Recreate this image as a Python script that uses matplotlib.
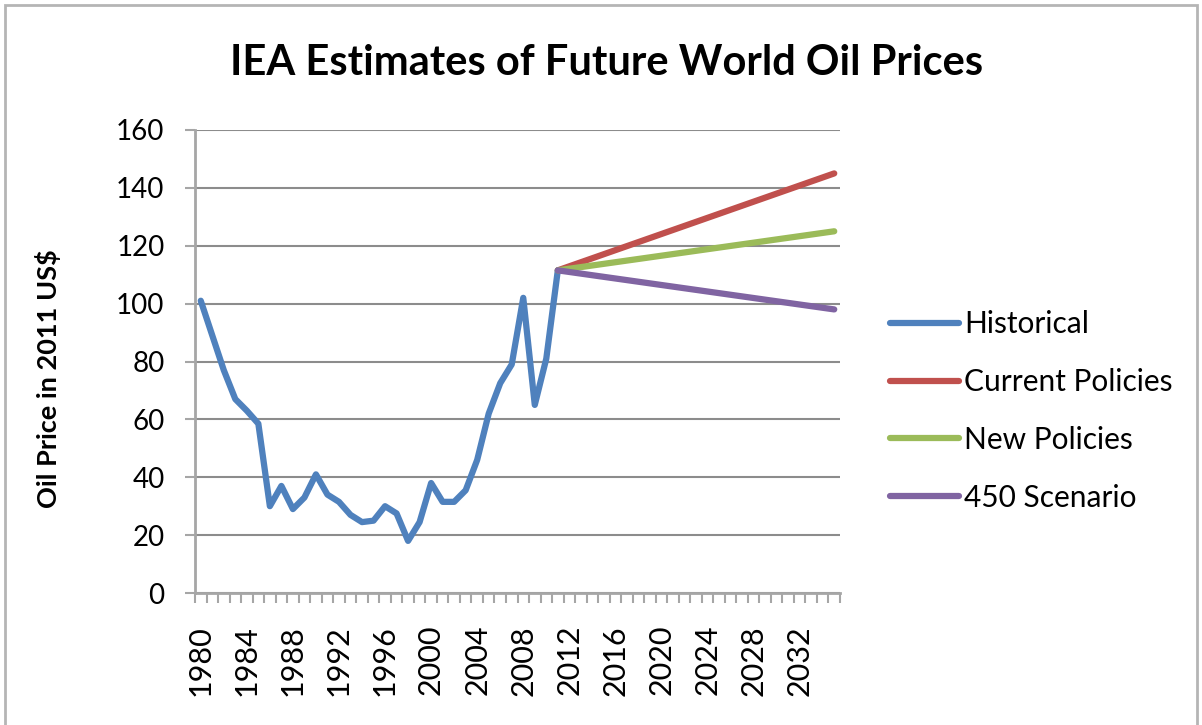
import numpy as np
import matplotlib
matplotlib.use('Agg')
import matplotlib.pyplot as plt
from matplotlib.patches import Rectangle

plt.rcParams['font.family'] = ['Lato', 'DejaVu Sans']

# Historical oil prices (2011 US$), 1980-2011
hist_years = list(range(1980, 2012))
hist_prices = [101, 89, 77, 67, 63, 58.5, 30, 37, 29, 33, 41, 34, 31.5, 27, 24.5, 25,
               30, 27.5, 18, 24.5, 38, 31.5, 31.5, 35.5, 46, 62, 72.5, 79, 102, 65, 81, 111.5]

# IEA scenario projections, 2011 -> 2035
proj_years = [2011, 2035]
current_policies = [111.5, 145]
new_policies = [111.5, 125]
scenario_450 = [111.5, 98]

tick_years = list(range(1980, 2036, 4))

blue = '#4f81bd'
red = '#c0504d'
green = '#9bbb59'
purple = '#8064a2'
axis_gray = '#a6a6a6'

fig = plt.figure(figsize=(12.02, 7.25), dpi=100)
ax = fig.add_axes([195/1202, 1-593/725, (840-195)/1202, (593-130)/725])

lw = 4.5
ax.plot(hist_years, hist_prices, color=blue, lw=lw, solid_capstyle='round', solid_joinstyle='round', label='Historical', zorder=3)
ax.plot(proj_years, current_policies, color=red, lw=lw, solid_capstyle='round', label='Current Policies', zorder=3)
ax.plot(proj_years, new_policies, color=green, lw=lw, solid_capstyle='round', label='New Policies', zorder=3)
ax.plot(proj_years, scenario_450, color=purple, lw=lw, solid_capstyle='round', label='450 Scenario', zorder=3)

ax.set_xlim(1979.5, 2035.5)
ax.set_ylim(0, 160)
ax.set_yticks(range(0, 161, 20))
ax.set_xticks(tick_years)
ax.set_xticklabels([str(y) for y in tick_years], rotation=90)
ax.set_xticks(np.arange(1979.5, 2036, 1), minor=True)
ax.tick_params(axis='x', which='major', length=0, pad=23, labelsize=22)
ax.tick_params(axis='x', which='minor', length=7, width=1.5, color=axis_gray, direction='out')
ax.tick_params(axis='y', which='major', length=7, width=1.5, color=axis_gray, direction='out', labelsize=20, pad=15)

ax.yaxis.grid(True, color='#8c8c8c', lw=1.5)
ax.set_axisbelow(True)
for s in ['top', 'right']:
    ax.spines[s].set_visible(False)
for s in ['left', 'bottom']:
    ax.spines[s].set_color(axis_gray)
    ax.spines[s].set_linewidth(2)

ax.set_ylabel('Oil Price in 2011 US$', fontsize=19.5, fontweight='bold')
ax.yaxis.set_label_coords(-0.207, 0.463)

fig.text(607/1202, 1-63/725, 'IEA Estimates of Future World Oil Prices', ha='center', va='center',
         fontsize=30, fontweight='bold')

fig.legend(loc='center left', bbox_to_anchor=(890/1202, 1-411/725), frameon=False, fontsize=21.5,
           handlelength=2.3, handletextpad=0.17, labelspacing=1.0, borderpad=0, borderaxespad=0)

fig.patches.append(Rectangle((5/1202, -0.01), (1197-5)/1202, 1-5/725 + 0.01, transform=fig.transFigure,
                             fill=False, edgecolor='#b5b5b5', lw=2))

fig.savefig('out.png', dpi=100)
